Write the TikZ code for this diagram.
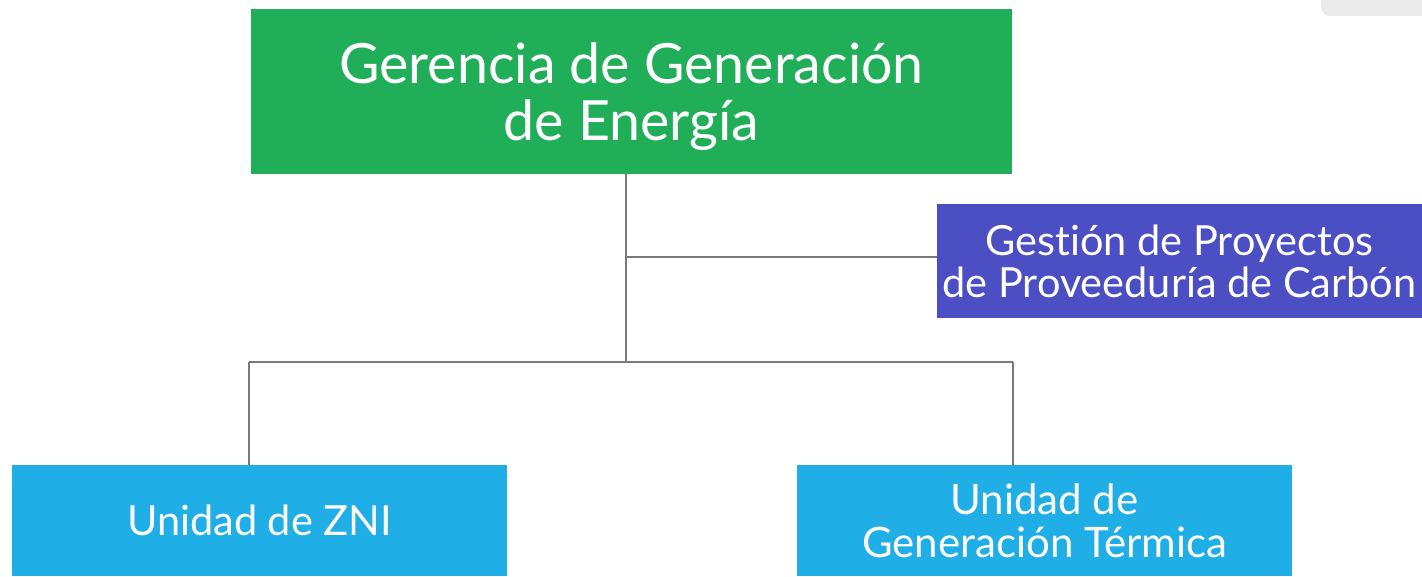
\documentclass[tikz,border=0pt]{standalone}
\usepackage{fontspec}
\setmainfont{Lato}[Ligatures=NoCommon]
\definecolor{gcol}{HTML}{20AE58}
\definecolor{pcol}{HTML}{4C4FC4}
\definecolor{bcol}{HTML}{20AEE6}
\definecolor{lcol}{HTML}{7A7A7A}
\definecolor{tabcol}{HTML}{EBEBEB}
\begin{document}
\begin{tikzpicture}[x=1pt,y=-1pt,
  box/.style={rectangle, inner sep=0pt, text=white, align=center},
  conn/.style={draw=lcol, line width=2pt}]
\useasboundingbox (0,0) rectangle (1422,576);
\fill[tabcol, rounded corners=9pt] (1321,-20) rectangle (1440,16);
\node[box, fill=gcol, minimum width=761pt, minimum height=165pt, font=\fontsize{55.5}{55}\selectfont] (g) at (631.5,91.5) {\raisebox{0pt}[\dimexpr\height+16pt\relax][\depth]{\begin{tabular}{@{}c@{}}Gerencia de Generación\\de Energía\end{tabular}}};
\node[box, fill=pcol, minimum width=485pt, minimum height=114pt, font=\fontsize{41.5}{42}\selectfont] (p) at (1179.5,261) {Gestión de Proyectos\\de Proveeduría de Carbón};
\node[box, fill=bcol, minimum width=495pt, minimum height=111pt, font=\fontsize{41.5}{43}\selectfont] (zni) at (259.5,520.5) {Unidad de ZNI};
\node[box, fill=bcol, minimum width=495pt, minimum height=111pt, font=\fontsize{42}{43}\selectfont] (term) at (1044.5,520.5) {Unidad de\\Generación Térmica};
\coordinate (j1) at (626,257);
\coordinate (j2) at (626,362);
\coordinate (l) at (249,362);
\coordinate (r) at (1013,362);
\draw[conn] (g.south -| j1) -- (j2);
\draw[conn] (j1) -- (p.west |- j1);
\draw[conn] (l) -- (r);
\draw[conn] (l) -- (l |- zni.north);
\draw[conn] (r) -- (r |- term.north);
\end{tikzpicture}
\end{document}
